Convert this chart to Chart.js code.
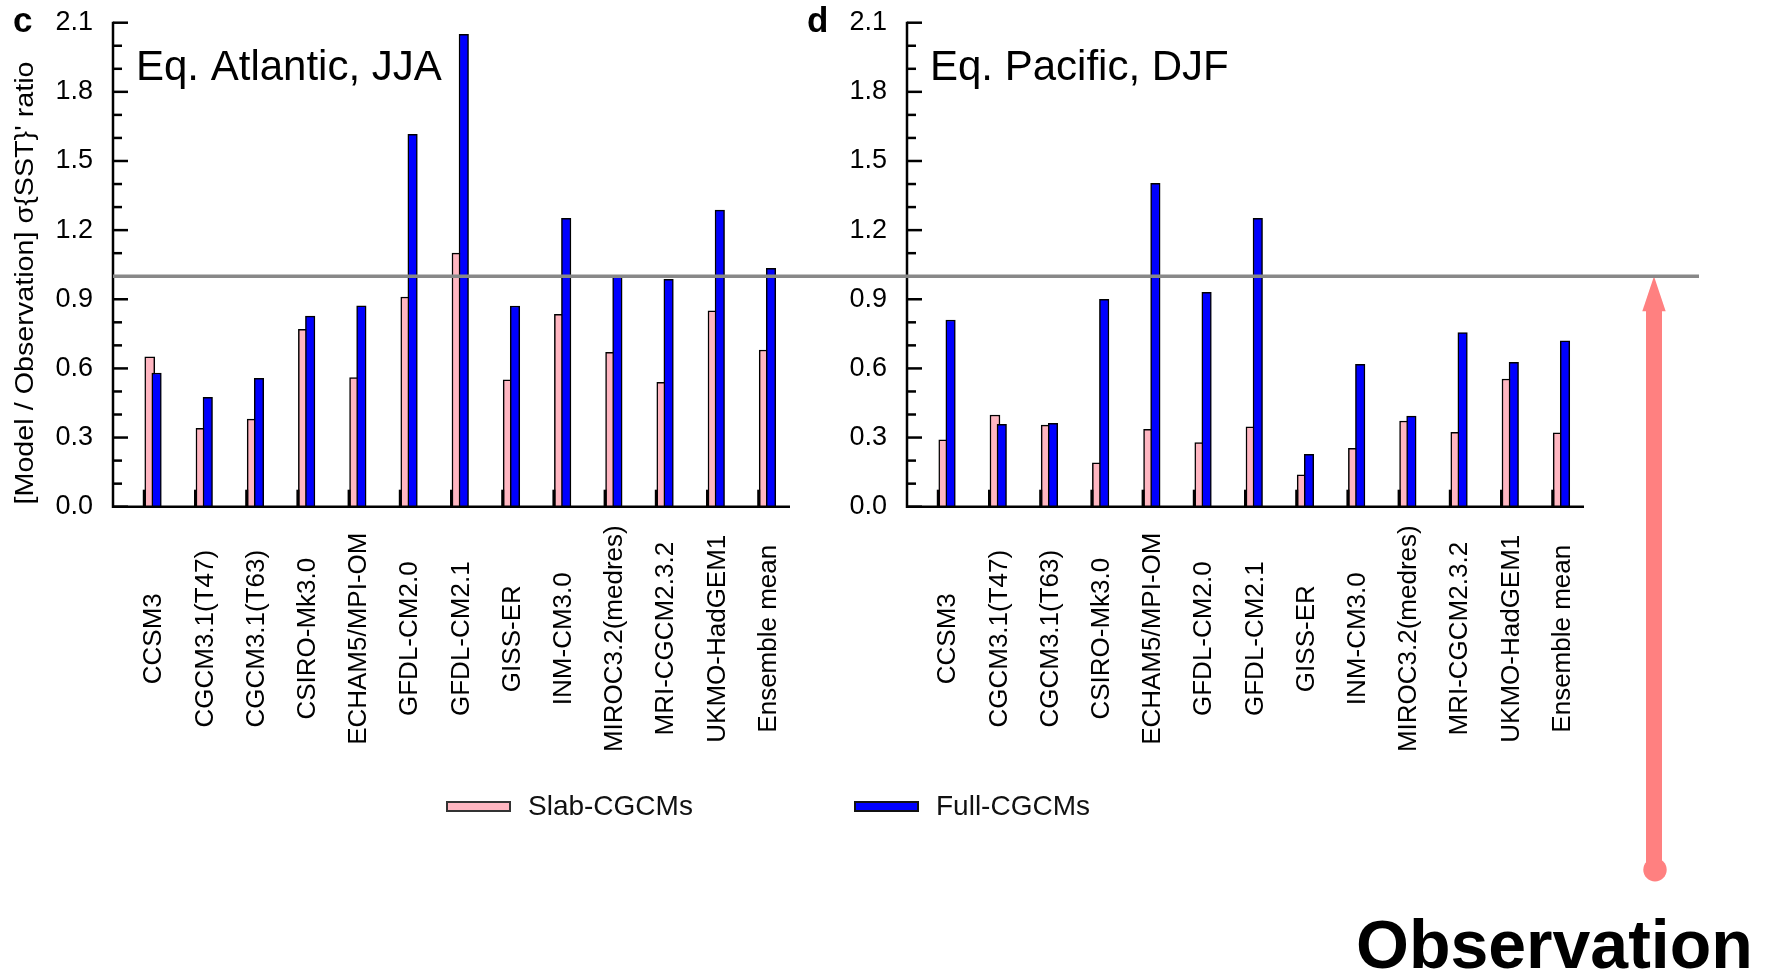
<!DOCTYPE html>
<html lang="en">
<head>
<meta charset="utf-8">
<title>SST variability ratio, slab vs full CGCMs</title>
<script src="https://cdn.jsdelivr.net/npm/chart.js"></script>
<style>
  body { margin: 0; background: #fff; }
  #wrap { position: relative; width: 1773px; height: 973px; overflow: hidden; font-family: "Liberation Sans", Arial, sans-serif; }
  canvas { position: absolute; left: 0; top: 0; }
  .key { position: absolute; top: 792px; height: 28px; line-height: 28px; font-size: 28px; color: #111; white-space: nowrap; }
  .swatch { position: absolute; top: 801px; width: 61px; height: 7px; border: 2px solid #333; }
  #obs { position: absolute; left: 1356px; top: 910px; font: bold 68px/68px "Liberation Sans", Arial, sans-serif; color: #000; white-space: nowrap; }
</style>
</head>
<body>
<div id="wrap">
  <canvas id="atl" width="1773" height="973"></canvas>
  <canvas id="pac" width="1773" height="973"></canvas>
  <div class="swatch" style="left:446px;background:#ffb6c1;"></div>
  <div class="key" style="left:528px;">Slab-CGCMs</div>
  <div class="swatch" style="left:854px;background:#0000ff;border-color:#111;"></div>
  <div class="key" style="left:936px;">Full-CGCMs</div>
  <div id="obs">Observation</div>
</div>

<script type="text/javascript">

    const models = ['CCSM3', 'CGCM3.1(T47)', 'CGCM3.1(T63)', 'CSIRO-Mk3.0', 'ECHAM5/MPI-OM',
        'GFDL-CM2.0', 'GFDL-CM2.1', 'GISS-ER', 'INM-CM3.0', 'MIROC3.2(medres)',
        'MRI-CGCM2.3.2', 'UKMO-HadGEM1', 'Ensemble mean'];

    // panel c: Eq. Atlantic, JJA
    const atlSlab = [0.65, 0.34, 0.38, 0.77, 0.56, 0.91, 1.10, 0.55, 0.835, 0.67, 0.54, 0.85, 0.68];
    const atlFull = [0.58, 0.475, 0.557, 0.827, 0.872, 1.616, 2.05, 0.871, 1.251, 1.0, 0.987, 1.287, 1.034];

    // panel d: Eq. Pacific, DJF
    const pacSlab = [0.29, 0.398, 0.354, 0.19, 0.336, 0.278, 0.347, 0.138, 0.253, 0.372, 0.323, 0.554, 0.321];
    const pacFull = [0.81, 0.357, 0.362, 0.90, 1.403, 0.93, 1.251, 0.227, 0.618, 0.393, 0.755, 0.626, 0.72];

    const yMajor = [0.0, 0.3, 0.6, 0.9, 1.2, 1.5, 1.8, 2.1];
    const observation = 1.0;

    const FONT = '"Liberation Sans", Arial, sans-serif';
    const leftPanelX = 113;
    const yLabelRoom = 110;

    const isMajor = v => yMajor.some(m => Math.abs(m - v) < 1e-6);

    const panelDeco = {
        id: 'panelDeco',
        afterDatasetsDraw(chart, args, opts) {
            const { ctx, chartArea: a, scales: { x, y } } = chart;
            const y0 = y.getPixelForValue(0);
            ctx.save();
            ctx.strokeStyle = '#000';
            ctx.lineCap = 'butt';

            // inward y ticks
            ctx.lineWidth = 2.5;
            y.ticks.forEach(t => {
                const py = y.getPixelForValue(t.value);
                const len = isMajor(t.value) ? 15 : 9;
                ctx.beginPath();
                ctx.moveTo(a.left, py);
                ctx.lineTo(a.left + len, py);
                ctx.stroke();
            });

            // axis lines
            ctx.beginPath();
            ctx.moveTo(a.left, a.top - 1);
            ctx.lineTo(a.left, y0);
            ctx.lineTo(a.right, y0);
            ctx.stroke();

            // category ticks (upward)
            ctx.lineWidth = 3;
            models.forEach((m, i) => {
                const px = x.getPixelForValue(i);
                ctx.beginPath();
                ctx.moveTo(px, y0);
                ctx.lineTo(px, y0 - 17);
                ctx.stroke();
            });

            // rotated category labels, centred
            ctx.fillStyle = '#000';
            ctx.font = '26px ' + FONT;
            ctx.textAlign = 'center';
            ctx.textBaseline = 'middle';
            models.forEach((m, i) => {
                ctx.save();
                ctx.translate(x.getPixelForValue(i) + 10, y0 + 132);
                ctx.rotate(-Math.PI / 2);
                ctx.fillText(m, 0, 0);
                ctx.restore();
            });

            // panel title and letter
            ctx.textAlign = 'left';
            ctx.textBaseline = 'alphabetic';
            ctx.font = '42px ' + FONT;
            ctx.fillText(opts.title, a.left + 23, a.top + 57.3);
            ctx.font = 'bold 35px ' + FONT;
            ctx.fillText(opts.letter, a.left - 100, a.top + 9);

            // y axis title
            if (opts.yTitle) {
                ctx.save();
                ctx.font = '26px ' + FONT;
                ctx.textAlign = 'center';
                ctx.translate(a.left - 80, 283);
                ctx.rotate(-Math.PI / 2);
                const w = ctx.measureText(opts.yTitle).width;
                ctx.scale(443 / w, 1);
                ctx.fillText(opts.yTitle, 0, 0);
                ctx.restore();
            }

            // observation line + arrow
            if (opts.obs) {
                const yr = y.getPixelForValue(observation);
                const ax = a.right + 70;
                ctx.fillStyle = '#ff8080';
                ctx.fillRect(ax - 8, yr + 34, 16, a.bottom + 363 - (yr + 34));
                ctx.beginPath();
                ctx.moveTo(ax, yr);
                ctx.lineTo(ax + 11.7, yr + 35);
                ctx.lineTo(ax - 11.7, yr + 35);
                ctx.closePath();
                ctx.fill();
                ctx.beginPath();
                ctx.arc(ax + 1, a.bottom + 363, 11.7, 0, Math.PI * 2);
                ctx.fill();

                ctx.strokeStyle = '#888';
                ctx.lineWidth = 3.5;
                ctx.beginPath();
                ctx.moveTo(leftPanelX, yr);
                ctx.lineTo(a.right + 115, yr);
                ctx.stroke();
            }
            ctx.restore();
        }
    };

    function makePanel(id, letter, title, slab, full, axisX, axisRight, extra) {
        const pts = (vals, shift) => vals.map((v, i) => ({ x: i + shift, y: v }));
        return new Chart(document.getElementById(id), {
            type: 'bar',
            data: {
                datasets: [{
                    label: 'Slab-CGCMs',
                    data: pts(slab, 0.107),
                    backgroundColor: '#ffb6c1',
                    borderColor: '#000',
                    borderWidth: 1.5,
                    barThickness: 10,
                    grouped: false,
                    order: 2
                }, {
                    label: 'Full-CGCMs',
                    data: pts(full, 0.24),
                    backgroundColor: '#0000ff',
                    borderColor: '#000',
                    borderWidth: 1.5,
                    barThickness: 9.5,
                    grouped: false,
                    order: 1
                }]
            },
            options: {
                responsive: false,
                animation: false,
                layout: { padding: { left: axisX - yLabelRoom, right: 1773 - axisRight, top: 22.7, bottom: 466.3 } },
                plugins: {
                    legend: { display: false },
                    tooltip: { enabled: false },
                    panelDeco: Object.assign({ letter, title }, extra)
                },
                scales: {
                    x: {
                        type: 'linear',
                        offset: false,
                        min: -0.611,
                        max: 12.611,
                        grid: { display: false, drawTicks: false, offset: false },
                        border: { display: false },
                        ticks: { display: false },
                        afterFit(s) { s.height = 0; s.paddingLeft = 0; s.paddingRight = 0; }
                    },
                    y: {
                        min: 0,
                        max: 2.1,
                        grid: { display: false, drawTicks: false },
                        border: { display: false },
                        ticks: {
                            stepSize: 0.1,
                            autoSkip: false,
                            padding: 20,
                            color: '#000',
                            font: { family: FONT, size: 27 },
                            callback: v => isMajor(v) ? v.toFixed(1) : ''
                        },
                        afterFit(s) { s.width = yLabelRoom; s.paddingTop = 0; s.paddingBottom = 0; }
                    }
                }
            },
            plugins: [panelDeco]
        });
    }

    makePanel('atl', 'c', 'Eq. Atlantic, JJA', atlSlab, atlFull, 113, 790,
        { yTitle: "[Model / Observation] \u03c3{SST}' ratio" });
    makePanel('pac', 'd', 'Eq. Pacific, DJF', pacSlab, pacFull, 907, 1584,
        { obs: true });
</script>
</body>
</html>
